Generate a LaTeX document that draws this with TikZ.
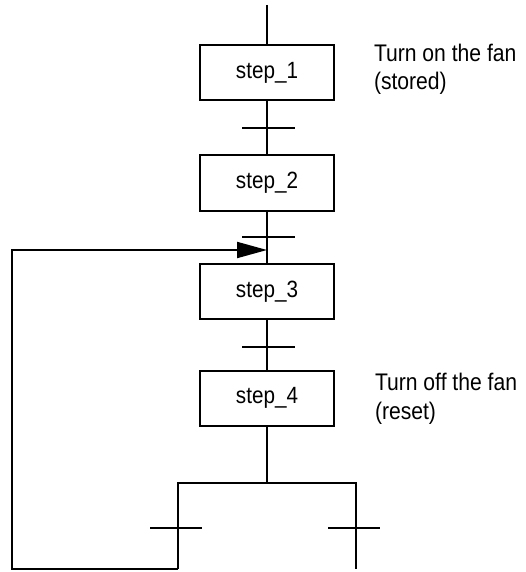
\documentclass[tikz,border=0pt]{standalone}
\usepackage{fontspec}
\setmainfont{Liberation Sans}[FakeStretch=0.88]
\usetikzlibrary{arrows.meta}
\begin{document}
\begin{tikzpicture}[x=1pt,y=-1pt,
  line width=2pt,
  stepbox/.style={draw, line width=2pt, minimum width=134pt, minimum height=55pt, inner sep=0pt,
    font=\fontsize{23.5}{28.5}\selectfont},
  note/.style={anchor=base west, inner sep=0pt, align=left, font=\fontsize{24}{28.5}\selectfont},
  tick/.style={line width=2pt},
  link/.style={line width=2pt}
]
\useasboundingbox (0,0) rectangle (526,572);

% steps
\node[stepbox] (s1) at (267,73) {step\_1};
\node[stepbox] (s2) at (267,183) {step\_2};
\node[stepbox] (s3) at (267,291.5) {step\_3};
\node[stepbox] (s4) at (267,398) {step\_4};

% notes (anchor is the baseline of the last line)
\node[note] (n1) at (373,90) {Turn on the fan\\(stored)};
\node[note] (n4) at (374,419) {Turn off the fan\\(reset)};

% coordinates
\coordinate (top) at (267,5);
\coordinate (t1) at (267,128);
\coordinate (t2) at (267,237);
\coordinate (t3) at (267,347);
\coordinate (join) at (267,250);
\coordinate (split) at (267,483);
\coordinate (bl) at (178,483);
\coordinate (br) at (356,483);
\coordinate (tl) at (178,528);
\coordinate (tr) at (356,528);
\coordinate (el) at (178,569);
\coordinate (er) at (356,569);
\coordinate (lb) at (12,569);
\coordinate (lt) at (12,250);

% main line
\draw[link] (top) -- (s1.north);
\draw[link] (s1.south) -- (s2.north);
\draw[link] (s2.south) -- (s3.north);
\draw[link] (s3.south) -- (s4.north);
\draw[link] (s4.south) -- (split);

% transitions
\draw[tick] ([xshift=-25pt]t1) -- ([xshift=28pt]t1);
\draw[tick] ([xshift=-25pt]t2) -- ([xshift=28pt]t2);
\draw[tick] ([xshift=-25pt]t3) -- ([xshift=28pt]t3);
\draw[tick] ([xshift=-28pt]tl) -- ([xshift=24pt]tl);
\draw[tick] ([xshift=-28pt]tr) -- ([xshift=24pt]tr);

% divergence
\draw[link] (el) -- (bl) -- (br) -- (er);

% loop back
\draw[link, -{Triangle[length=30pt,width=16pt]}] (el) -- (lb) -- (lt) -- (join);
\end{tikzpicture}
\end{document}
